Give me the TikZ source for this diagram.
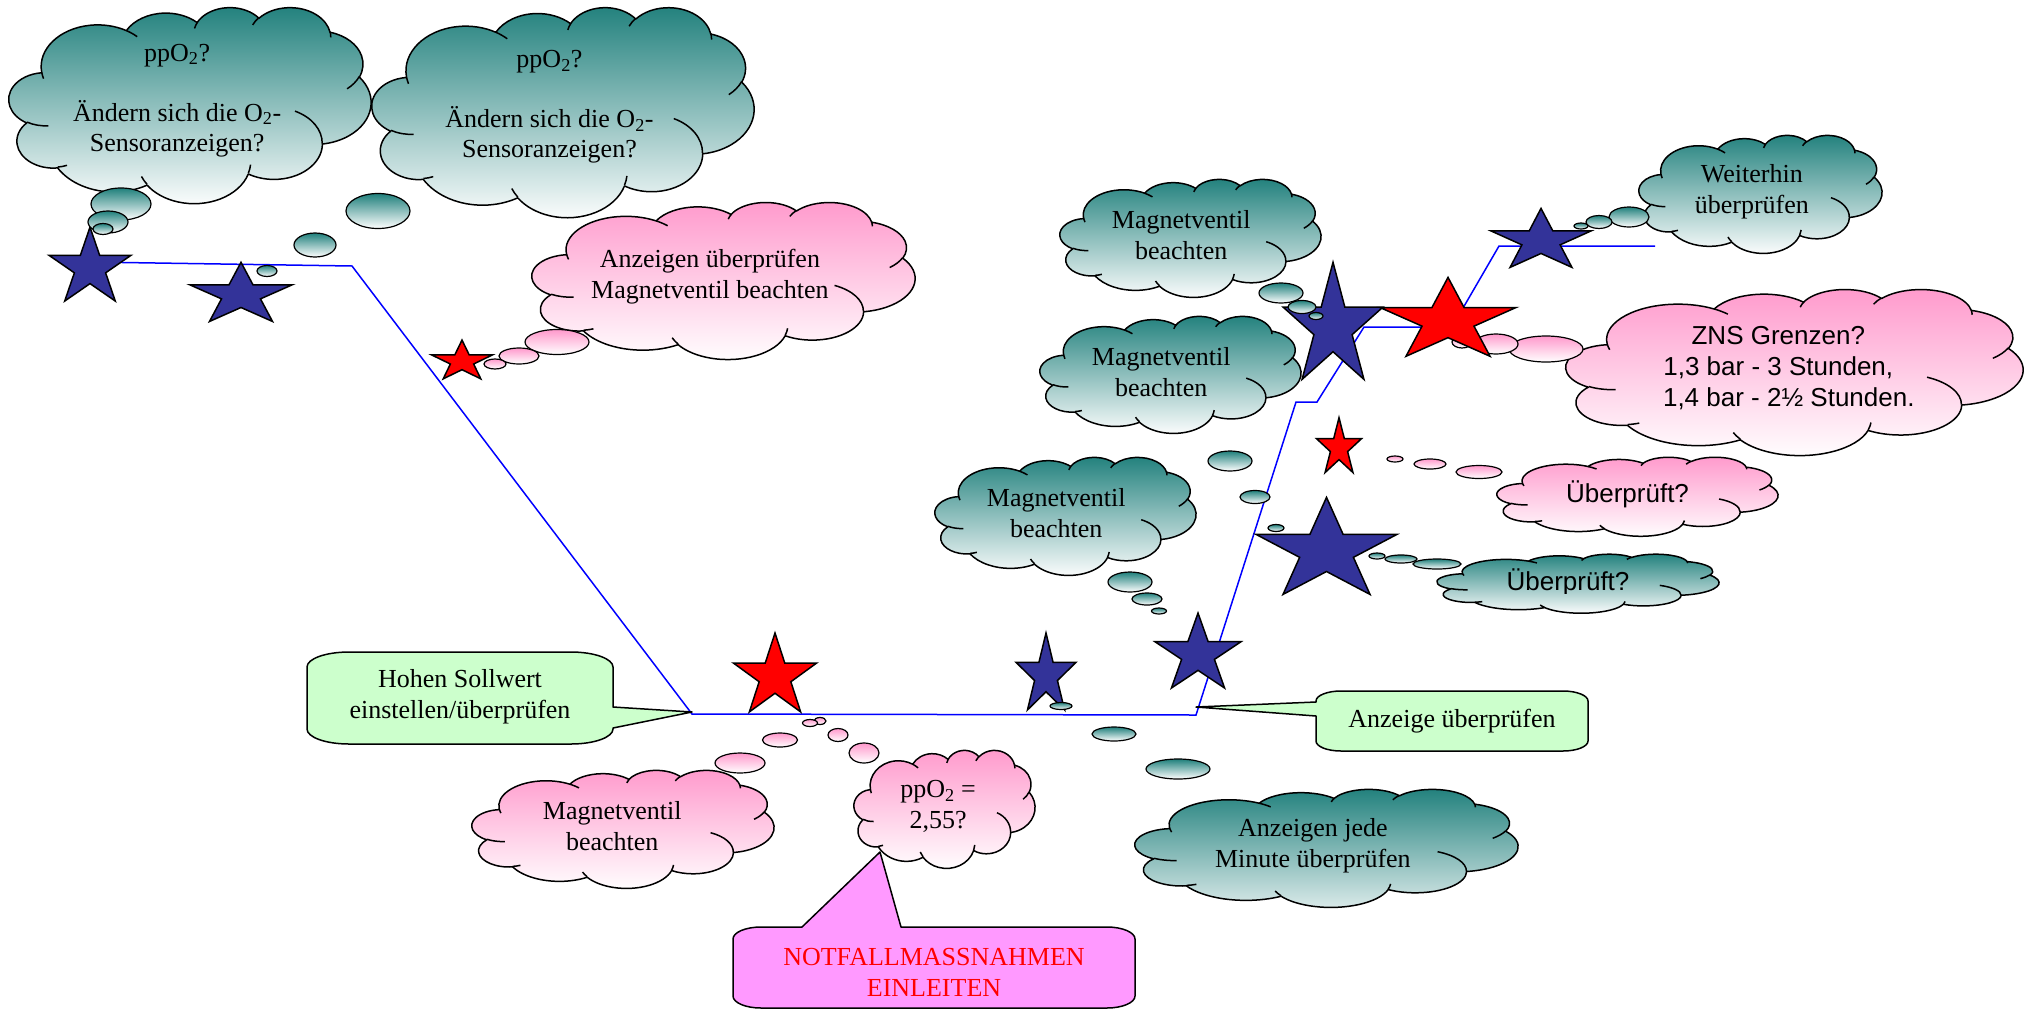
\documentclass[tikz,border=0pt]{standalone}
\usepackage{fontspec}
\setmainfont{Liberation Serif}
\newfontfamily\arialfont{Liberation Sans}
\usepackage{xcolor}
\usepackage{tikz}

\definecolor{tuerkis}{RGB}{32,128,124}
\definecolor{rosa}{RGB}{255,153,204}
\definecolor{sternblau}{RGB}{51,51,153}
\definecolor{linienblau}{RGB}{0,0,255}
\definecolor{hellgruen}{RGB}{204,255,204}
\definecolor{lila}{RGB}{255,153,255}

\tikzset{
  wolkenrand/.style={draw=black, line width=1.5pt, line join=round},
  wolketuerkis/.style={top color=tuerkis, bottom color=white},
  wolketuerkisL/.style={top color=tuerkis, bottom color=tuerkis!15},
  wolkerosa/.style={top color=rosa, bottom color=white},
  wolketext/.style={align=center, inner sep=0pt, font=\fontsize{26}{31}\selectfont},
  blase/.style={draw=black, line width=1.2pt},
  sternrand/.style={draw=black, line width=1.5pt},
  legende/.style={draw=black, line width=1.5pt, line join=round},
  profil/.style={draw=linienblau, line width=1.5pt},
}

% Wolke: [Textoptionen]{Name}{x links}{y oben}{Breite}{Hoehe}{Farbstil}{Text}
\newcommand{\wolke}[8][]{%
  \pgfmathsetmacro\wsx{#5/432}%
  \pgfmathsetmacro\wsy{#6/432}%
  \begin{scope}[shift={(#3,#4)}, x=\wsx pt, y=-\wsy pt]
    \shadedraw[wolkenrand, #7] (39.00,143.70)
      arc[start angle=187.75, end angle=59.64, x radius=67.53pt*\wsx, y radius=91.90pt*\wsy]
      arc[start angle=152.03, end angle=45.46, x radius=53.33pt*\wsx, y radius=72.67pt*\wsy]
      arc[start angle=153.50, end angle=37.35, x radius=43.65pt*\wsx, y radius=59.45pt*\wsy]
      arc[start angle=139.72, end angle=10.21, x radius=48.57pt*\wsx, y radius=65.95pt*\wsy]
      arc[start angle=74.77, end angle=-23.21, x radius=53.33pt*\wsx, y radius=72.73pt*\wsy]
      arc[start angle=37.54, end angle=-81.86, x radius=67.75pt*\wsx, y radius=92.20pt*\wsy]
      arc[start angle=-0.46, end angle=-121.97, x radius=57.85pt*\wsx, y radius=78.67pt*\wsy]
      arc[start angle=-16.84, end angle=-146.23, x radius=67.52pt*\wsx, y radius=92.15pt*\wsy]
      arc[start angle=-58.98, end angle=-150.20, x radius=77.20pt*\wsx, y radius=105.43pt*\wsy]
      arc[start angle=276.69, end angle=136.93, x radius=43.60pt*\wsx, y radius=59.18pt*\wsy]
      arc[start angle=239.65, end angle=95.89, x radius=43.45pt*\wsx, y radius=59.45pt*\wsy]
      -- cycle;
    % Falten
    \draw[wolkenrand]
      (46.93,261.77) arc[start angle=-85.55, end angle=-120.35, x radius=43.45pt*\wsx, y radius=59.45pt*\wsy]
      (69.28,348.99) arc[start angle=-68.24, end angle=-83.31, x radius=43.60pt*\wsx, y radius=59.18pt*\wsy]
      (164.78,390.90) arc[start angle=-146.23, end angle=-158.47, x radius=67.52pt*\wsx, y radius=92.15pt*\wsy]
      (288.27,347.51) arc[start angle=-4.74, end angle=-16.84, x radius=67.52pt*\wsx, y radius=92.15pt*\wsy]
      (341.29,229.54) arc[start angle=64.03, end angle=-0.46, x radius=57.85pt*\wsx, y radius=78.67pt*\wsy]
      (417.98,153.54) arc[start angle=-23.21, end angle=-49.64, x radius=53.33pt*\wsx, y radius=72.73pt*\wsy]
      (383.24,54.26) arc[start angle=10.21, end angle=-0.82, x radius=48.57pt*\wsx, y radius=65.95pt*\wsy]
      (290.78,39.52) arc[start angle=156.28, end angle=139.72, x radius=48.57pt*\wsx, y radius=65.95pt*\wsy]
      (221.41,47.20) arc[start angle=167.72, end angle=153.50, x radius=43.65pt*\wsx, y radius=59.45pt*\wsy]
      (140.00,51.92) arc[start angle=59.64, end angle=45.74, x radius=67.53pt*\wsx, y radius=91.90pt*\wsy]
      (41.27,157.89) arc[start angle=-163.19, end angle=-172.25, x radius=67.53pt*\wsx, y radius=91.90pt*\wsy];
  \end{scope}
  \node[wolketext, #1] (#2) at ({#3+0.4645*#5},{#4+0.4768*#6}) {#8};
}

% Stern: {Name}{x}{y}{Radius}{y-Streckung}{Farbe}
\newcommand{\stern}[6]{%
  \coordinate (#1) at (#2,#3);
  \draw[sternrand, fill=#6] ({#2},{#3-#5*#4})
    \foreach \k in {0,...,4} {
      -- ({#2+0.382*#4*cos(126+72*\k)},{#3-#5*0.382*#4*sin(126+72*\k)})
      -- ({#2+#4*cos(162+72*\k)},{#3-#5*#4*sin(162+72*\k)})
    } -- cycle;
}

\begin{document}
\begin{tikzpicture}[x=1pt, y=-1pt]
  \useasboundingbox (0,0) rectangle (2036,1010);

  % Tauchprofil
  \draw[profil] (90,262) -- (352,266) -- (692,714) -- (1196,715) -- (1296,402)
    -- (1317,402) -- (1364,327) -- (1452,327) -- (1499,246) -- (1655,246);

  % Wolken
  \wolke[font=\fontsize{26}{30}\selectfont]{wolkeA}{9}{7}{362}{196}{wolketuerkis}{ppO\textsubscript{2}?\\[30pt]Ändern sich die O\textsubscript{2}-\\Sensoranzeigen?}
  \wolke[font=\fontsize{26}{30}\selectfont]{wolkeB}{372}{7}{382}{210}{wolketuerkis}{ppO\textsubscript{2}?\\[30pt]Ändern sich die O\textsubscript{2}-\\Sensoranzeigen?}
  \wolke{wolkeC}{532}{202}{383}{157}{wolkerosa}{Anzeigen überprüfen\\Magnetventil beachten}
  \wolke{wolkeD}{1060}{179}{261}{118}{wolketuerkis}{Magnetventil\\beachten}
  \wolke{wolkeE}{1639}{135}{243}{118}{wolketuerkis}{Weiterhin\\überprüfen}
  \wolke[font=\arialfont\fontsize{26}{31}\selectfont]{wolkeF}{1566}{289}{457}{166}{wolkerosa}{ZNS Grenzen?\\1,3 bar - 3 Stunden,\\\hspace*{21pt}1,4 bar - 2½ Stunden.}
  \wolke[font=\arialfont\fontsize{26}{31}\selectfont]{wolkeG}{1497}{457}{281}{79}{wolkerosa}{Überprüft?}
  \wolke{wolkeH}{1437}{554}{282}{59}{wolketuerkis}{}
  \begin{scope}
    \clip (1437,540) rectangle (1719,593);
    \node[wolketext, font=\arialfont\fontsize{26}{31}\selectfont] (textH) at (1568,582) {Überprüft?};
  \end{scope}
  \wolke{wolkeJ}{1040}{316}{261}{117}{wolketuerkis}{Magnetventil\\beachten}
  \wolke{wolkeK}{935}{457}{261}{118}{wolketuerkis}{Magnetventil\\beachten}
  \wolke{wolkeL}{1135}{789}{383}{118}{wolketuerkisL}{Anzeigen jede\\Minute überprüfen}
  \wolke{wolkeM}{854}{750}{181}{118}{wolkerosa}{ppO\textsubscript{2} =\\2,55?}
  \wolke{wolkeN}{472}{770}{302}{118}{wolkerosa}{Magnetventil\\beachten}

  % Blasen hinter dem grossen roten Stern
  \foreach \px/\py/\ra/\rb in {1546/349/37/13, 1496/344/22/10, 1462/342/10/6}
    \shadedraw[blase, wolkerosa] (\px,\py) ellipse[x radius=\ra pt, y radius=\rb pt];

  % Sterne
  \stern{s1}{90}{268}{43}{0.95}{sternblau}
  \stern{s2}{241}{295}{53.6}{0.61}{sternblau}
  \stern{s3}{462}{361.5}{32}{0.67}{red}
  \stern{s4}{1333}{327}{52.6}{1.23}{sternblau}
  \stern{s5}{1448}{321}{71.5}{0.61}{red}
  \stern{s6}{1541}{241}{52.6}{0.62}{sternblau}
  \stern{s7}{1339}{448}{23.7}{1.28}{red}
  \stern{s8}{1326.5}{551}{74}{0.725}{sternblau}
  \stern{s9}{1198}{654.5}{45.2}{0.917}{sternblau}
  \stern{s10}{1046}{675.5}{31.5}{1.35}{sternblau}
  \stern{s11}{775}{676.6}{43.6}{1.0}{red}

  % Gedankenblasen
  \foreach \px/\py/\ra/\rb in {121/204/30/16, 108/222/20/11, 103/229/10/5.5,
      378/211/32/17.5, 315/245/21/12, 267/271/10/5.5,
      1281/293/22/10, 1302/307/14/6.5, 1316/316/7/3.5,
      1629/217/20/10, 1599/222/13/6.5, 1581/226/7/3,
      1437/564/24/5, 1401/559/16/4, 1377/556/8/3,
      1230/461/22/10, 1255/497/15/6.5, 1276/528/8/3.5,
      1130/582/22/10, 1147/599/15/6, 1159/611/7.5/3,
      1178/769/32/10, 1114/734/22/7, 1061/706/11/3.5}
    \shadedraw[blase, wolketuerkis] (\px,\py) ellipse[x radius=\ra pt, y radius=\rb pt];
  \foreach \px/\py/\ra/\rb in {557/342/32/12.5, 519/356/20/8, 495/364/11/5,
      1479/472/23/6.5, 1430/464/16/5, 1395/459/8/3,
      864/753/15/10, 838/735/10/6.5, 820/721/6/3.5,
      740/763/25/10, 780/740/17.5/7, 810/723/7.5/3.5}
    \shadedraw[blase, wolkerosa] (\px,\py) ellipse[x radius=\ra pt, y radius=\rb pt];

  % Legenden
  \coordinate (spitzeSoll) at (692,712);
  \coordinate (spitzeAnz) at (1196,707);
  \coordinate (spitzeNot) at (880,852);
  \filldraw[legende, fill=hellgruen] (349,652) -- (571,652)
    arc[start angle=90, end angle=0, x radius=42pt, y radius=15pt] -- (613,707)
    -- (spitzeSoll) -- (613,728) -- (613,729)
    arc[start angle=0, end angle=-90, x radius=42pt, y radius=15pt] -- (349,744)
    arc[start angle=-90, end angle=-180, x radius=42pt, y radius=15pt] -- (307,667)
    arc[start angle=180, end angle=90, x radius=42pt, y radius=15pt] -- cycle;
  \node[wolketext] (sollwert) at (460,697) {Hohen Sollwert\\einstellen/überprüfen};

  \filldraw[legende, fill=hellgruen] (1341,691) -- (1563,691)
    arc[start angle=90, end angle=0, x radius=25pt, y radius=10pt] -- (1588,741)
    arc[start angle=0, end angle=-90, x radius=25pt, y radius=10pt] -- (1341,751)
    arc[start angle=-90, end angle=-180, x radius=25pt, y radius=10pt] -- (1316,716)
    -- (spitzeAnz) -- (1316,702) -- (1316,701)
    arc[start angle=180, end angle=90, x radius=25pt, y radius=10pt] -- cycle;
  \node[wolketext] (anzeige) at (1452,721) {Anzeige überprüfen};

  \filldraw[legende, fill=lila] (761,927) -- (802,927) -- (spitzeNot) -- (901,927) -- (1107,927)
    arc[start angle=90, end angle=0, x radius=28pt, y radius=12pt] -- (1135,996)
    arc[start angle=0, end angle=-90, x radius=28pt, y radius=12pt] -- (761,1008)
    arc[start angle=-90, end angle=-180, x radius=28pt, y radius=12pt] -- (733,939)
    arc[start angle=180, end angle=90, x radius=28pt, y radius=12pt] -- cycle;
  \node[wolketext, text=red] (notfall) at (934,972) {NOTFALLMASSNAHMEN\\EINLEITEN};
\end{tikzpicture}
\end{document}
